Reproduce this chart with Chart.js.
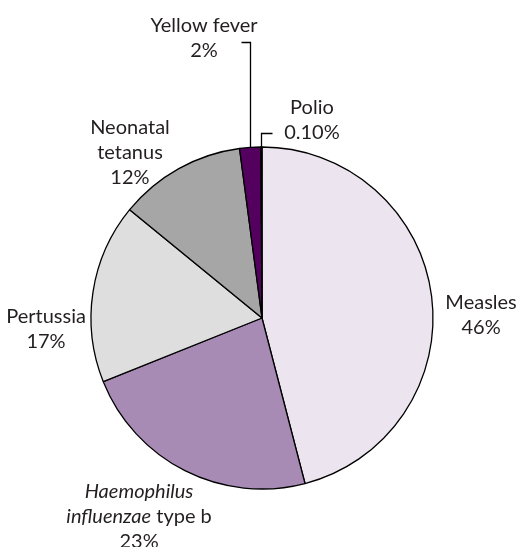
<!DOCTYPE html>
<html>
<head>
<meta charset="utf-8">
<script src="https://cdn.jsdelivr.net/npm/chart.js@4/dist/chart.umd.min.js"></script>
<style>
html,body{margin:0;padding:0;background:#fff;}
canvas{display:block;}
</style>
</head>
<body>
<canvas id="c" width="520" height="547"></canvas>
<script>
// ---- data ----
const categories = ['Measles', 'Haemophilus influenzae type b', 'Pertussia', 'Neonatal tetanus', 'Yellow fever', 'Polio'];
const values = [46, 23, 17, 12, 2, 0.1];
const percentLabels = ['46%', '23%', '17%', '12%', '2%', '0.10%'];
// label text split into lines; *...* marks italic
const labelLines = [
  ['Measles'],
  ['*Haemophilus*', '*influenzae* type b'],
  ['Pertussia'],
  ['Neonatal', 'tetanus'],
  ['Yellow fever'],
  ['Polio']
];
const colors = ['#ECE4EE', '#A78BB5', '#DEDEDE', '#A6A6A6', '#53005E', '#000000'];

// label placement relative to pie centre, in units of radius
const labelOffsets = [
  [1.281, -0.02],
  [-0.719, 1.164],
  [-1.263, 0.064],
  [-0.772, -0.965],
  [-0.339, -1.64],
  [0.292, -1.155]
];
// leader lines: [direction of horizontal tick, vertical offset from label centre]
const leaders = [null, null, null, null, {dir: -1, dy: 4.5, len: 9}, {dir: 1, dy: 12.5, len: 11}];

const FONT = 'Lato, "Open Sans", sans-serif';
const FSIZE = 20;
const LINE_H = 25;

function parseSegments(line) {
  const parts = [];
  const re = /\*([^*]+)\*|([^*]+)/g;
  let m;
  while ((m = re.exec(line)) !== null) {
    if (m[1] !== undefined) parts.push({t: m[1], i: true});
    else parts.push({t: m[2], i: false});
  }
  return parts;
}

const labelPlugin = {
  id: 'pieLabels',
  afterDatasetsDraw(chart) {
    const ctx = chart.ctx;
    const meta = chart.getDatasetMeta(0);
    ctx.save();
    ctx.fillStyle = '#231F20';
    ctx.textBaseline = 'middle';
    meta.data.forEach((arc, idx) => {
      const p = arc.getProps(['x', 'y', 'startAngle', 'endAngle', 'outerRadius'], true);
      const R = p.outerRadius;
      const cx = p.x + labelOffsets[idx][0] * R;
      const cy = p.y + labelOffsets[idx][1] * R;
      const lines = labelLines[idx].concat([percentLabels[idx]]);
      const n = lines.length;
      lines.forEach((line, li) => {
        const segs = parseSegments(line);
        let w = 0;
        segs.forEach(s => {
          ctx.font = (s.i ? 'italic ' : '') + FSIZE + 'px ' + FONT;
          s.w = ctx.measureText(s.t).width;
          w += s.w;
        });
        let x = cx - w / 2;
        const y = cy + (li - (n - 1) / 2) * LINE_H;
        ctx.textAlign = 'left';
        segs.forEach(s => {
          ctx.font = (s.i ? 'italic ' : '') + FSIZE + 'px ' + FONT;
          ctx.fillText(s.t, x, y);
          x += s.w;
        });
      });
      const ld = leaders[idx];
      if (ld) {
        const mid = (p.startAngle + p.endAngle) / 2;
        const ax = p.x + Math.cos(mid) * R;
        const ay = p.y + Math.sin(mid) * R;
        const ly = cy + ld.dy;
        ctx.strokeStyle = '#000';
        ctx.lineWidth = 1.3;
        ctx.beginPath();
        ctx.moveTo(Math.round(ax) + 0.5, ay);
        ctx.lineTo(Math.round(ax) + 0.5, Math.round(ly) + 0.5);
        ctx.lineTo(Math.round(ax) + 0.5 + ld.dir * ld.len, Math.round(ly) + 0.5);
        ctx.stroke();
      }
    });
    ctx.restore();
  }
};

new Chart(document.getElementById('c'), {
  type: 'pie',
  data: {
    labels: categories,
    datasets: [{
      data: values,
      backgroundColor: colors,
      borderColor: '#000000',
      borderWidth: 1.3
    }]
  },
  options: {
    responsive: false,
    animation: false,
    radius: 171,
    layout: {padding: {left: 91, right: 87, top: 147, bottom: 58}},
    plugins: {legend: {display: false}, tooltip: {enabled: false}}
  },
  plugins: [labelPlugin]
});
</script>
</body>
</html>
